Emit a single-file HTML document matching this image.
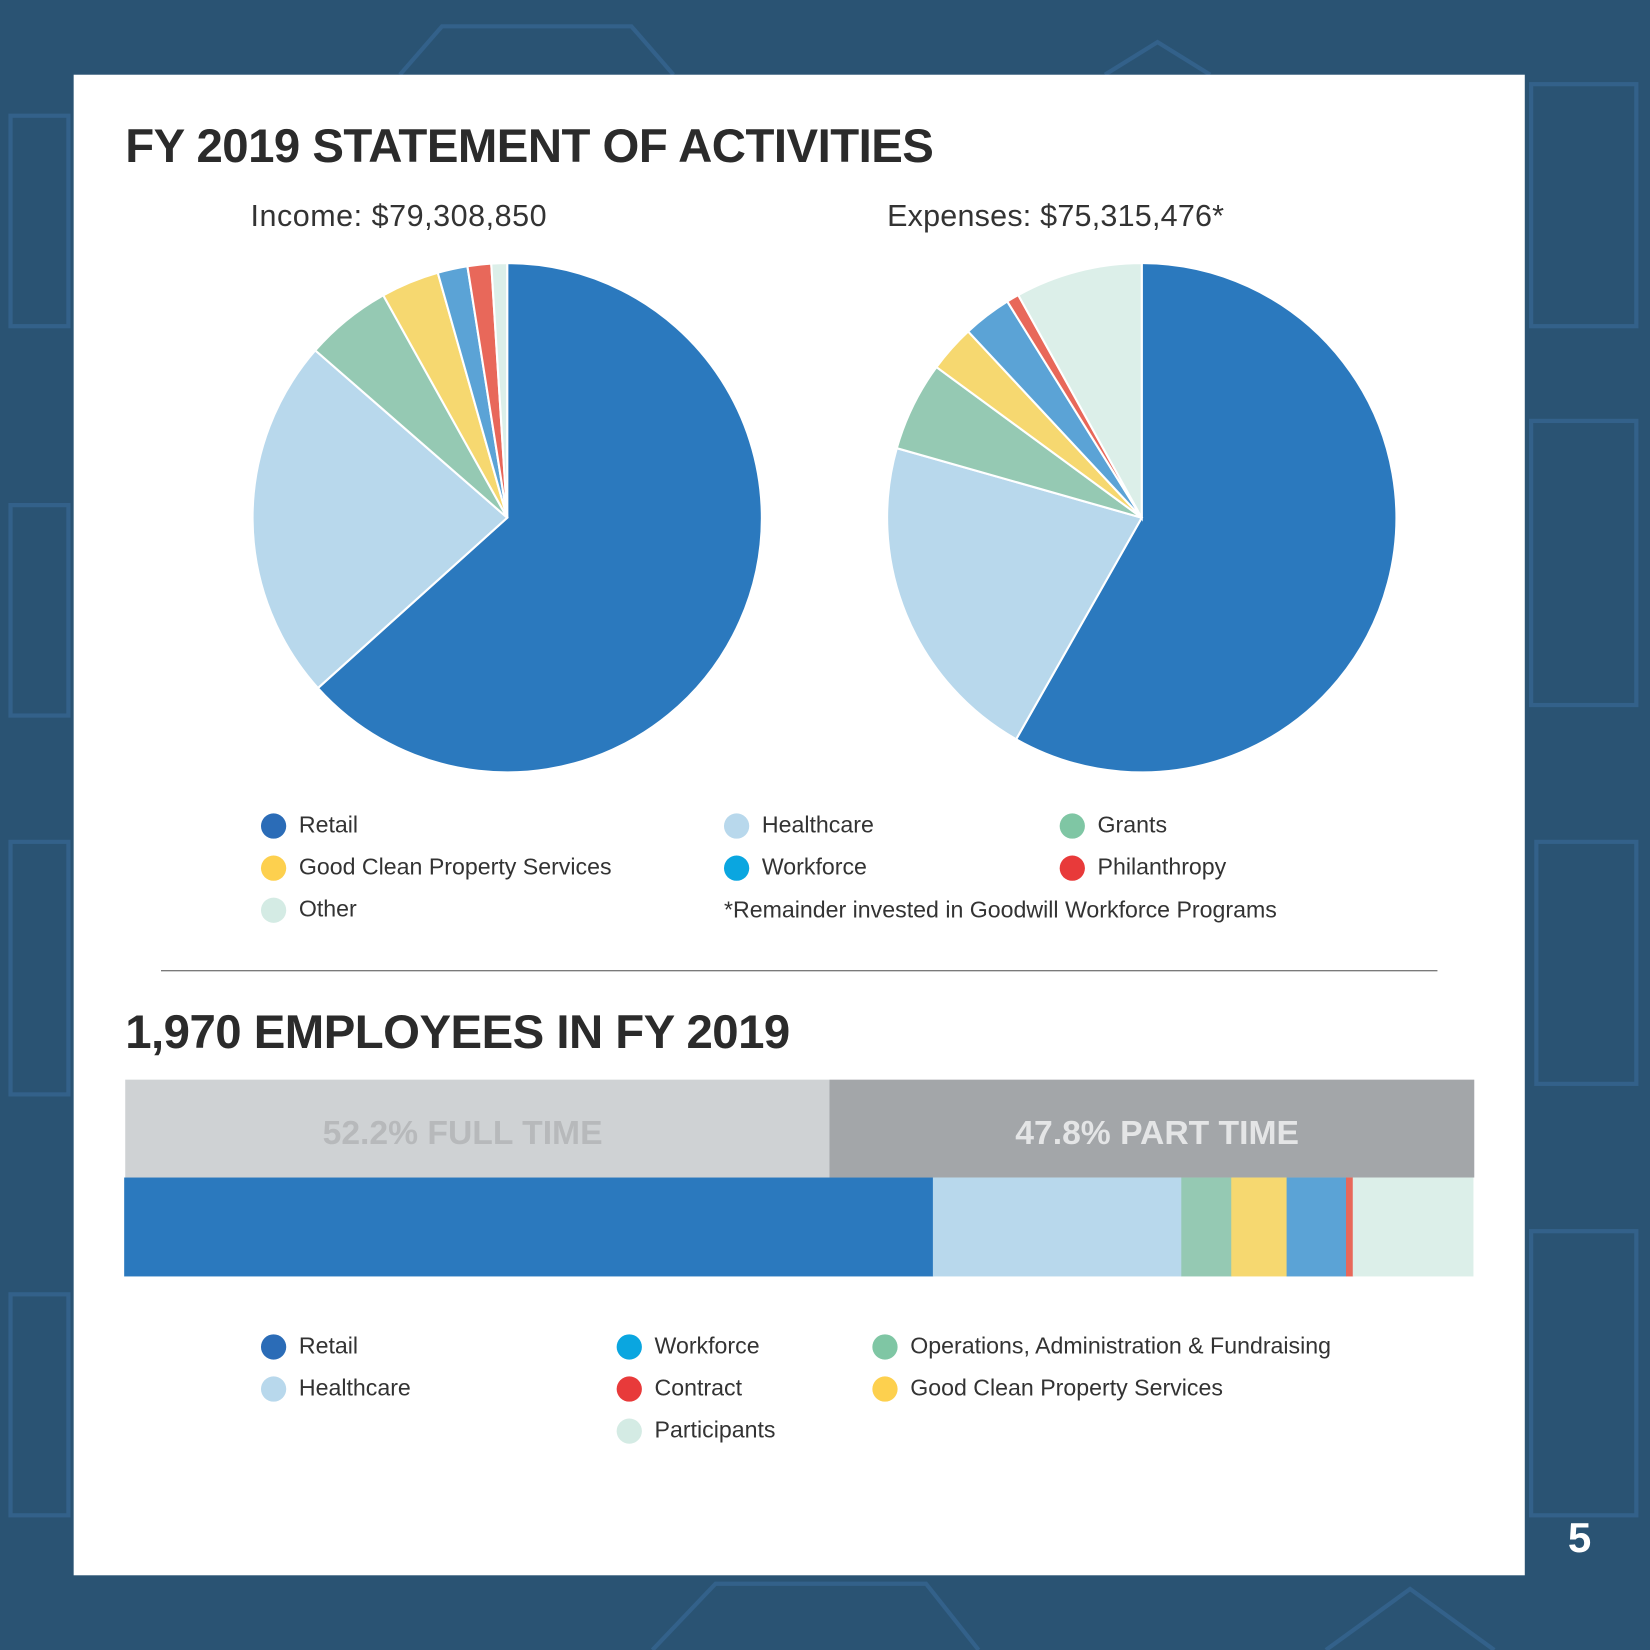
<!DOCTYPE html>
<html><head><meta charset="utf-8"><style>
html,body{margin:0;padding:0;width:1650px;height:1650px;overflow:hidden;background:#2a5373;}
#wrap{position:absolute;left:0;top:0;width:1568px;height:1568px;transform:scale(1.05230);transform-origin:0 0;font-family:"Liberation Sans",sans-serif;}
.abs{position:absolute;}
.t{color:#333;font-size:22px;white-space:nowrap;}
.dot{position:absolute;width:24px;height:24px;border-radius:50%;}
</style></head><body>
<div id="wrap">
<svg class="abs" style="left:0;top:0" width="1568" height="1568">
<g fill="none" stroke="#33618a" stroke-width="4">
<rect x="1455" y="80" width="100" height="230"/><rect x="1455" y="400" width="100" height="270"/><rect x="1460" y="800" width="95" height="230"/><rect x="1455" y="1170" width="100" height="270"/>
<rect x="10" y="110" width="55" height="200"/><rect x="10" y="480" width="55" height="200"/><rect x="10" y="800" width="55" height="240"/><rect x="10" y="1230" width="55" height="210"/>
<path d="M620 1568 L680 1505 L880 1505 L930 1568"/><path d="M1260 1568 L1340 1510 L1420 1568"/><path d="M380 71 L420 25 L600 25 L640 71"/><path d="M1050 71 L1100 40 L1150 71"/>
</g></svg>
<div class="abs" style="left:70px;top:71px;width:1379px;height:1426px;background:#fff"></div>
<div class="abs" style="left:1490px;top:1440px;color:#fff;font-size:40px;font-weight:bold;font-family:'Liberation Sans Narrow','Liberation Sans',sans-serif">5</div>
<div class="abs" style="left:119px;top:113px;font-size:45px;font-weight:900;color:#2b2b2b;letter-spacing:-0.5px">FY 2019 STATEMENT OF ACTIVITIES</div>
<div class="abs t" style="left:238px;top:190px;font-size:29px;letter-spacing:0.5px">Income: $79,308,850</div>
<div class="abs t" style="left:843px;top:190px;font-size:29px;letter-spacing:0.2px">Expenses: $75,315,476*</div>
<svg id="pies" class="abs" style="left:0;top:0" width="1568" height="1568"></svg>
<div id="leg1"></div>
<div class="abs t" style="left:688px;top:852px">*Remainder invested in Goodwill Workforce Programs</div>
<div class="abs" style="left:153px;top:922px;width:1213px;height:1px;background:#555"></div>
<div class="abs" style="left:119px;top:955px;font-size:45px;font-weight:900;color:#2b2b2b;letter-spacing:-0.5px">1,970 EMPLOYEES IN FY 2019</div>
<svg id="bars" class="abs" style="left:0;top:0" width="1568" height="1568"></svg>
<div id="leg2"></div>
</div>
<script>
const colors={retail:'#2b79be',health:'#b8d8ec',grants:'#95c9b3',gcps:'#f6d870',work:'#5ba3d6',phil:'#e8685a',other:'#dcefe9'};
const pieCategories=['retail','health','grants','gcps','work','phil','other'];
const incomeValues=[63.4,23.1,5.5,3.7,1.9,1.5,1.0];
const expenseValues=[58.5,21.3,5.7,3.0,3.1,0.8,8.1];
const timeLabels=['52.2% FULL TIME','47.8% PART TIME'];
const timeValues=[52.2,47.8];
const barCategories=['retail','health','grants','gcps','work','phil','other'];
const barValues=[59.9,18.4,3.7,4.1,4.4,0.5,8.9];
const NS='http://www.w3.org/2000/svg';
function mk(t,a){const e=document.createElementNS(NS,t);for(const k in a)e.setAttribute(k,a[k]);return e;}
const pies=document.getElementById('pies');
function drawPie(vals,cx,cy,r,name){
  const tot=vals.reduce((a,b)=>a+b,0);let a0=0;
  vals.forEach((v,i)=>{
    const a1=a0+v/tot*2*Math.PI;
    const x0=cx+r*Math.sin(a0),y0=cy-r*Math.cos(a0),x1=cx+r*Math.sin(a1),y1=cy-r*Math.cos(a1);
    const p=mk('path',{d:`M${cx},${cy}L${x0},${y0}A${r},${r} 0 ${a1-a0>Math.PI?1:0} 1 ${x1},${y1}Z`,fill:colors[pieCategories[i]],stroke:'#fff','stroke-width':2});
    
    
    pies.appendChild(p);a0=a1;
  });
}
drawPie(incomeValues,482,492,242,'income');
drawPie(expenseValues,1085,492,242,'expenses');
const bars=document.getElementById('bars');
const bx0=118,bx1=1401;
const sx=v=>v/100*(bx1-bx0);
let x=119;
const tFill=['#cfd2d4','#a3a6a9'],tText=['#b7b9bb','#e4e5e6'],tOff=[-14,5];
timeValues.forEach((v,i)=>{
  const w=v/100*(1401-119);
  const r=mk('rect',{x:x,y:1026,width:w,height:93,fill:tFill[i]});
  
  
  bars.appendChild(r);
  const t=mk('text',{x:x+w/2+tOff[i],y:1087,'text-anchor':'middle','font-size':32,'font-weight':'bold',fill:tText[i],'font-family':'Liberation Sans Narrow, Liberation Sans, sans-serif'});
  t.textContent=timeLabels[i];
  
  
  bars.appendChild(t);x+=w;
});
x=bx0;
barValues.forEach((v,i)=>{
  const r=mk('rect',{x:x,y:1119,width:sx(v)+0.5,height:94,fill:colors[barCategories[i]]});
  
  
  bars.appendChild(r);x+=sx(v);
});
function legend(id,items){
  const c=document.getElementById(id);
  items.forEach(it=>{
    const d=document.createElement('div');d.className='dot';d.style.left=(it[0]-12)+'px';d.style.top=(it[1]-12)+'px';d.style.background=it[3];
    
    
    const t=document.createElement('div');t.className='abs t';t.style.left=(it[0]+24)+'px';t.style.top=(it[1]-14)+'px';t.textContent=it[2];
    
    
    c.appendChild(d);c.appendChild(t);
  });
}
legend('leg1',[[260,785,'Retail','#2b6cb7'],[700,785,'Healthcare','#b8d8ec'],[1019,785,'Grants','#7fc6a4'],[260,825,'Good Clean Property Services','#fdd04e'],[700,825,'Workforce','#0aa6e0'],[1019,825,'Philanthropy','#e83a3a'],[260,865,'Other','#d4ebe4']]);
legend('leg2',[[260,1280,'Retail','#2b6cb7'],[598,1280,'Workforce','#0aa6e0'],[841,1280,'Operations, Administration & Fundraising','#7fc6a4'],[260,1320,'Healthcare','#b8d8ec'],[598,1320,'Contract','#e83a3a'],[841,1320,'Good Clean Property Services','#fdd04e'],[598,1360,'Participants','#d4ebe4']]);
</script>
</body></html>
